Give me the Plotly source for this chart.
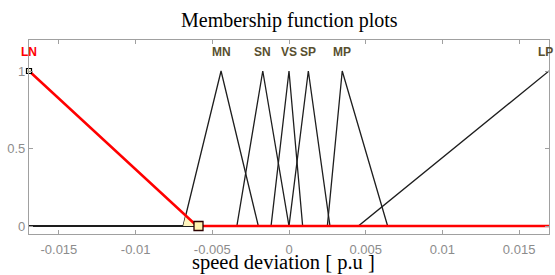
import numpy as np
import plotly.graph_objects as go

# ---- data ----
x_min, x_max = -0.01695, 0.01695
mf_names = ["LN", "MN", "SN", "VS", "SP", "MP", "LP"]
mf_a = [-0.0339, -0.0069, -0.0034, -0.00117, 0.0, 0.0025, 0.00452]   # left foot
mf_b = [-0.01695, -0.00443, -0.00171, 0.0, 0.00126, 0.00347, 0.01695]  # peak
mf_c = [-0.0060, -0.0020, 0.0, 0.00089, 0.00267, 0.00643, 0.0339]     # right foot
label_names = ["LN", "MN", "SN", "VS", "SP", "MP", "LP"]
x_tickvals = [-0.015, -0.01, -0.005, 0, 0.005, 0.01, 0.015]
x_ticktext = ["-0.015", "-0.01", "-0.005", "0", "0.005", "0.01", "0.015"]
y_tickvals = [0, 0.5, 1]
y_ticktext = ["0", "0.5", "1"]
selected = "LN"


def tri(x, a, b, c):
    x = np.asarray(x, dtype=float)
    up = np.where(b > a, (x - a) / (b - a if b != a else 1), 1.0)
    dn = np.where(c > b, (c - x) / (c - b if c != b else 1), 1.0)
    return np.clip(np.minimum(up, dn), 0, 1)


fig = go.Figure()

red_trace = None
for name, a, b, c in zip(mf_names, mf_a, mf_b, mf_c):
    pts = sorted(set([x_min, x_max] + [p for p in (a, b, c) if x_min <= p <= x_max]))
    ys = tri(pts, a, b, c)
    if name == selected:
        red_trace = (pts, ys)
    else:
        fig.add_trace(go.Scatter(x=pts, y=ys, mode="lines",
                                 line=dict(color="#1e1e1e", width=1.3),
                                 hoverinfo="skip", showlegend=False))

# overlap fill between selected MF and its neighbour
i_s = mf_names.index(selected)
i_n = 1
xs = np.linspace(mf_a[i_n], mf_c[i_s], 200)
ov = np.minimum(tri(xs, mf_a[i_s], mf_b[i_s], mf_c[i_s]), tri(xs, mf_a[i_n], mf_b[i_n], mf_c[i_n]))
fig.add_trace(go.Scatter(x=np.concatenate([xs, xs[::-1]]),
                         y=np.concatenate([ov, np.zeros_like(ov)]),
                         fill="toself", fillcolor="#fff6bf", mode="lines",
                         line=dict(width=0), hoverinfo="skip", showlegend=False))

fig.add_trace(go.Scatter(x=red_trace[0], y=red_trace[1], mode="lines",
                         line=dict(color="#ff0000", width=2.6),
                         hoverinfo="skip", showlegend=False))

# handle markers of the selected MF
fig.add_trace(go.Scatter(x=[mf_b[i_s]], y=[1], mode="markers",
                         marker=dict(symbol="square", size=5, color="#f5f0d0",
                                     line=dict(color="#000000", width=1.2)),
                         hoverinfo="skip", showlegend=False, cliponaxis=False))
fig.add_trace(go.Scatter(x=[mf_c[i_s] + 0.0001], y=[0], mode="markers",
                         marker=dict(symbol="square", size=9, color="#fff3b0",
                                     line=dict(color="#2a0000", width=1.3)),
                         hoverinfo="skip", showlegend=False))

# MF labels
for name, b in zip(label_names, mf_b):
    xl = min(max(b, x_min), x_max)
    shift = -4 if xl >= x_max else 0
    fig.add_annotation(x=xl, y=1.12, xref="x", yref="y", text=f"<b>{name}</b>",
                       showarrow=False, xanchor="center", yanchor="middle", xshift=shift,
                       font=dict(family="Liberation Sans, Arial", size=12,
                                 color="#ff0000" if name == selected else "#585030"))

# title and axis label
fig.add_annotation(x=0.5, y=1.098, xref="paper", yref="paper",
                   text="Membership function plots", showarrow=False,
                   xanchor="center", yanchor="middle",
                   font=dict(family="Liberation Serif, Times New Roman", size=20, color="#000"))
fig.add_annotation(x=0.489, y=-0.145, xref="paper", yref="paper",
                   text="speed deviation [ p.u ]", showarrow=False,
                   xanchor="center", yanchor="middle", borderpad=0,
                   font=dict(family="Liberation Serif, Times New Roman", size=20.5, color="#000"))

tickfont = dict(family="Liberation Sans, Arial", size=13, color="#8c8c8c")
fig.update_xaxes(range=[x_min, x_max], tickvals=x_tickvals, ticktext=x_ticktext,
                 ticks="inside", ticklen=4, tickcolor="#a0a0a0", showline=True,
                 linecolor="#a0a0a0", linewidth=1.2, mirror="ticks", showgrid=False,
                 zeroline=False, tickfont=tickfont, automargin=False, ticklabelstandoff=3)
fig.update_yaxes(range=[-0.0516, 1.2], tickvals=y_tickvals, ticktext=y_ticktext,
                 ticks="inside", ticklen=4, tickcolor="#a0a0a0", showline=True,
                 linecolor="#a0a0a0", linewidth=1.2, mirror="ticks", showgrid=False,
                 zeroline=False, tickfont=tickfont, automargin=False)

fig.update_layout(width=555, height=275, margin=dict(l=29, r=6, t=40, b=41),
                  plot_bgcolor="white", paper_bgcolor="white", showlegend=False)

fig.write_html("out.html", config={"displayModeBar": False},
               post_script="document.body.style.margin='0';document.body.style.padding='0';")
